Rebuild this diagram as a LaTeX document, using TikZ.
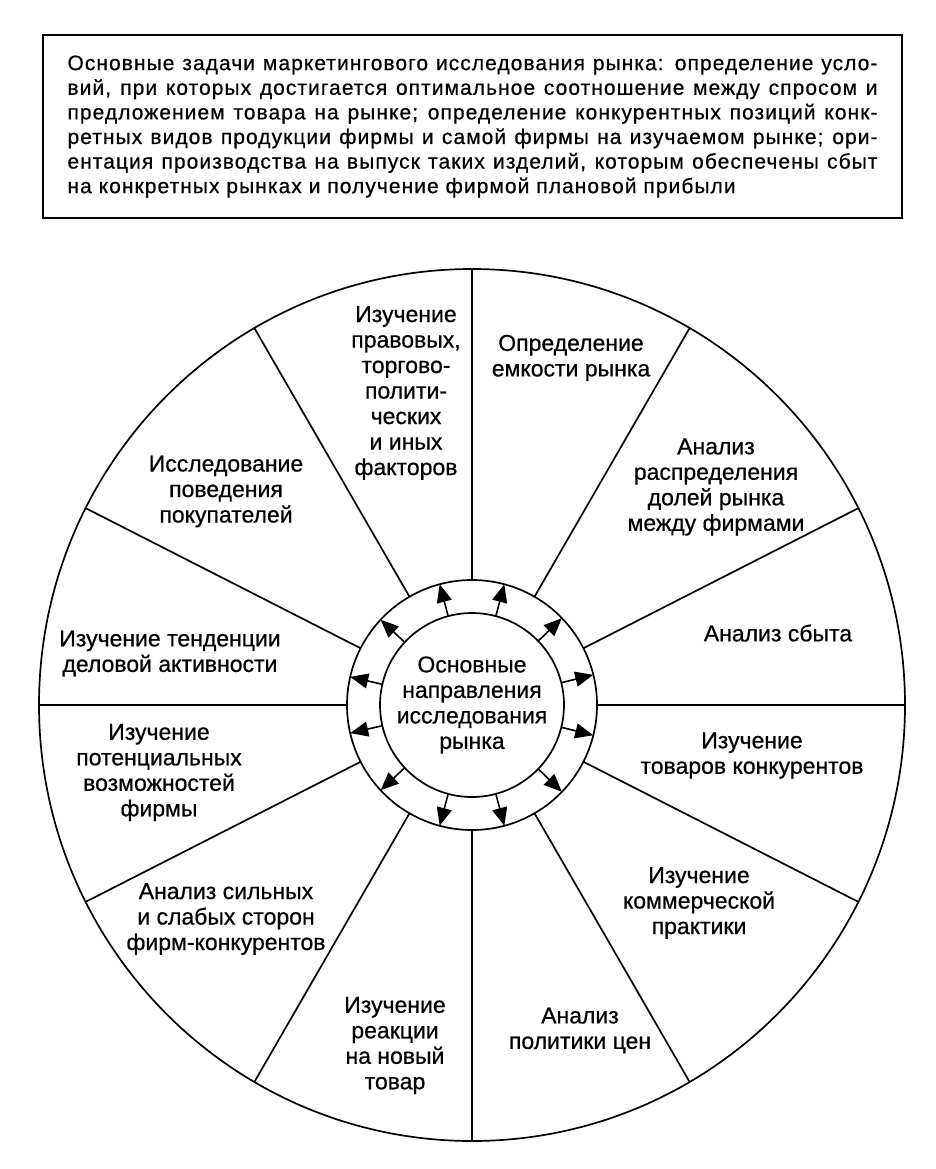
\documentclass[tikz,border=0pt]{standalone}
\usepackage{fontspec}
\setmainfont[FakeBold=0.6]{Liberation Sans}
\newfontfamily\boxfont[FakeBold=0.6,LetterSpace=5]{Liberation Sans}
\usetikzlibrary{arrows.meta,shapes.geometric}
\begin{document}
\begin{tikzpicture}[x=1pt,y=-1pt,
  every node/.style={inner sep=0pt, outer sep=0pt},
  ln/.style={line width=1.7pt},
  seg/.style={align=center, font=\fontsize{23}{25.5}\selectfont},
  arr/.style={line width=1.6pt, -{Triangle[length=18pt,width=15pt]}}]
\useasboundingbox (0,0) rectangle (936,1169);
\node[draw, line width=2.2pt, minimum width=859pt, minimum height=183pt,
      align=center, font=\boxfont\fontsize{21}{24.6}\selectfont] (task) at (472.5,126.5) {%
\makebox[810pt][s]{Основные задачи маркетингового исследования рынка: определение усло-}\\
\makebox[810pt][s]{вий, при которых достигается оптимальное соотношение между спросом и}\\
\makebox[810pt][s]{предложением товара на рынке; определение конкурентных позиций конк-}\\
\makebox[810pt][s]{ретных видов продукции фирмы и самой фирмы на изучаемом рынке; ори-}\\
\makebox[810pt][s]{ентация производства на выпуск таких изделий, которым обеспечены сбыт}\\
\makebox[810pt][l]{на конкретных рынках и получение фирмой плановой прибыли}};
\coordinate (C) at (472,705);
\node[draw, ln, ellipse, minimum width=866pt, minimum height=872pt] (big) at (C) {};
\node[draw, ln, circle, minimum size=250pt] (ring) at (C) {};
\node[draw, ln, circle, minimum size=184pt, seg] (ctr) at (C) {Основные\\направления\\исследования\\рынка};
\foreach \a in {0,27,60,90,120,153,180,207,240,270,300,333}
  \draw[ln] (ring.\a) -- (big.\a);
\foreach \a in {14,44,75,105,137,167,193,223,255,285,316,346}
  \draw[arr] (ctr.\a) -- (ring.\a);
\node[seg] (law) at (406,393) {Изучение\\правовых,\\торгово-\\полити-\\ческих\\и иных\\факторов};
\node[seg] (cap) at (571,358) {Определение\\емкости рынка};
\node[seg] (shares) at (716,487) {Анализ\\распределения\\долей рынка\\между фирмами};
\node[seg] (sales) at (778,633) {Анализ сбыта};
\node[seg] (goods) at (752,755.5) {Изучение\\товаров конкурентов};
\node[seg] (comm) at (699,903) {Изучение\\коммерческой\\практики};
\node[seg] (price) at (580,1030.5) {Анализ\\политики цен};
\node[seg] (react) at (395,1045.5) {Изучение\\реакции\\на новый\\товар};
\node[seg] (strong) at (226,919) {Анализ сильных\\и слабых сторон\\фирм-конкурентов};
\node[seg] (potent) at (159,772.5) {Изучение\\потенциальных\\возможностей\\фирмы};
\node[seg] (trend) at (170,653.5) {Изучение тенденции\\деловой активности};
\node[seg] (behav) at (226,491.5) {Исследование\\поведения\\покупателей};
\end{tikzpicture}
\end{document}
